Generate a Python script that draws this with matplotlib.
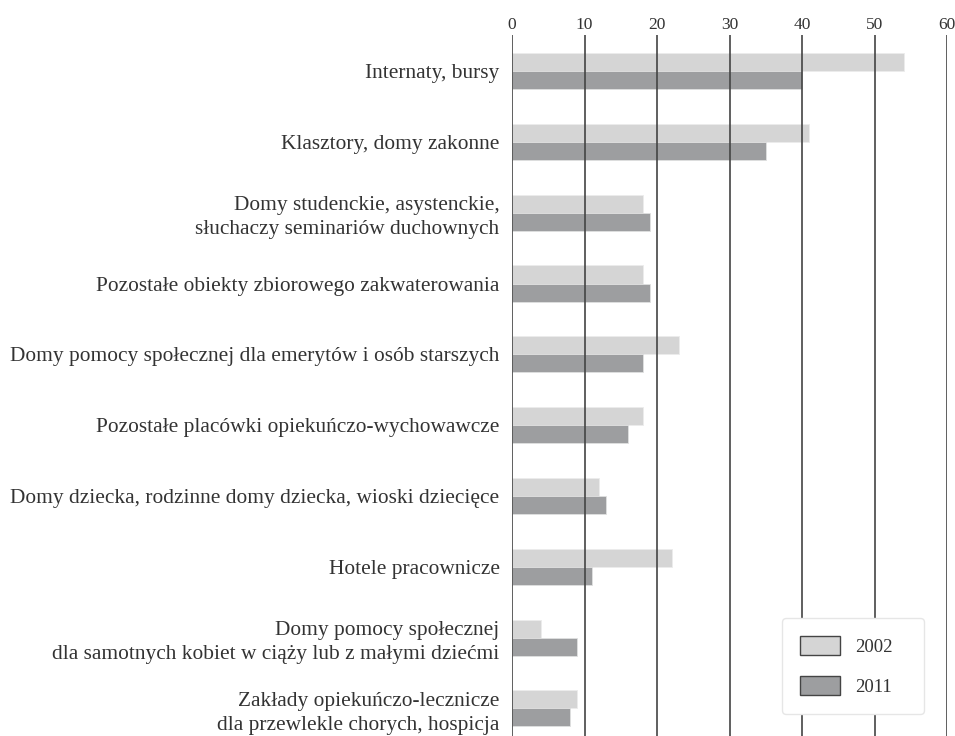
import matplotlib.pyplot as plt
import numpy as np

# Categories (top to bottom) and values
categories = [
    'Internaty, bursy',
    'Klasztory, domy zakonne',
    'Domy studenckie, asystenckie,\nsłuchaczy seminariów duchownych',
    'Pozostałe obiekty zbiorowego zakwaterowania',
    'Domy pomocy społecznej dla emerytów i osób starszych',
    'Pozostałe placówki opiekuńczo-wychowawcze',
    'Domy dziecka, rodzinne domy dziecka, wioski dziecięce',
    'Hotele pracownicze',
    'Domy pomocy społecznej\ndla samotnych kobiet w ciąży lub z małymi dziećmi',
    'Zakłady opiekuńczo-lecznicze\ndla przewlekle chorych, hospicja',
]
values_2002 = [54, 41, 18, 18, 23, 18, 12, 22, 4, 9]
values_2011 = [40, 35, 19, 19, 18, 16, 13, 11, 9, 8]
series_labels = ['2002', '2011']
x_ticks = [0, 10, 20, 30, 40, 50, 60]

color_2002 = '#d5d5d5'
color_2011 = '#9d9ea0'
text_color = '#333333'

plt.rcParams['font.family'] = ['Liberation Serif', 'DejaVu Serif']

fig = plt.figure(figsize=(9.55, 7.36), dpi=100)
ax = fig.add_axes([512 / 955, 0, (947 - 512) / 955, 1 - 35 / 736])

y = np.arange(len(categories))
h = 0.255
ax.barh(y - h / 2, values_2002, height=h, color=color_2002, edgecolor='#ececec',
        linewidth=0.6, label=series_labels[0], zorder=1)
ax.barh(y + h / 2, values_2011, height=h, color=color_2011, edgecolor='#e0e0e0',
        linewidth=0.6, label=series_labels[1], zorder=1)

for xv in x_ticks:
    ax.axvline(xv, color='#444444', linewidth=1.2, zorder=2)

ax.set_xlim(0, 60)
ax.set_ylim(9.39, -0.51)
ax.xaxis.tick_top()
ax.set_xticks(x_ticks)
ax.tick_params(axis='x', length=0, pad=1.5, labelsize=12.5, labelcolor=text_color)
ax.set_yticks(y)
ax.set_yticklabels(categories, fontsize=15.4, color=text_color, linespacing=1.33)
ax.tick_params(axis='y', length=0, pad=9)
for s in ax.spines.values():
    s.set_visible(False)

leg = ax.legend(loc='lower left', bbox_to_anchor=(782 / 955, 22 / 736, 142 / 955, 95 / 736),
                bbox_transform=fig.transFigure, mode='expand', fontsize=13.5,
                frameon=True, fancybox=True, edgecolor='#e6e6e6', framealpha=1,
                handlelength=2.15, handleheight=1.17, handletextpad=0.8,
                labelspacing=1.1, borderpad=0.95, borderaxespad=0)
for t in leg.get_texts():
    t.set_color(text_color)
for p in leg.get_patches():
    p.set_edgecolor('#444444')
    p.set_linewidth(1.0)

fig.savefig('out.png', dpi=100)
